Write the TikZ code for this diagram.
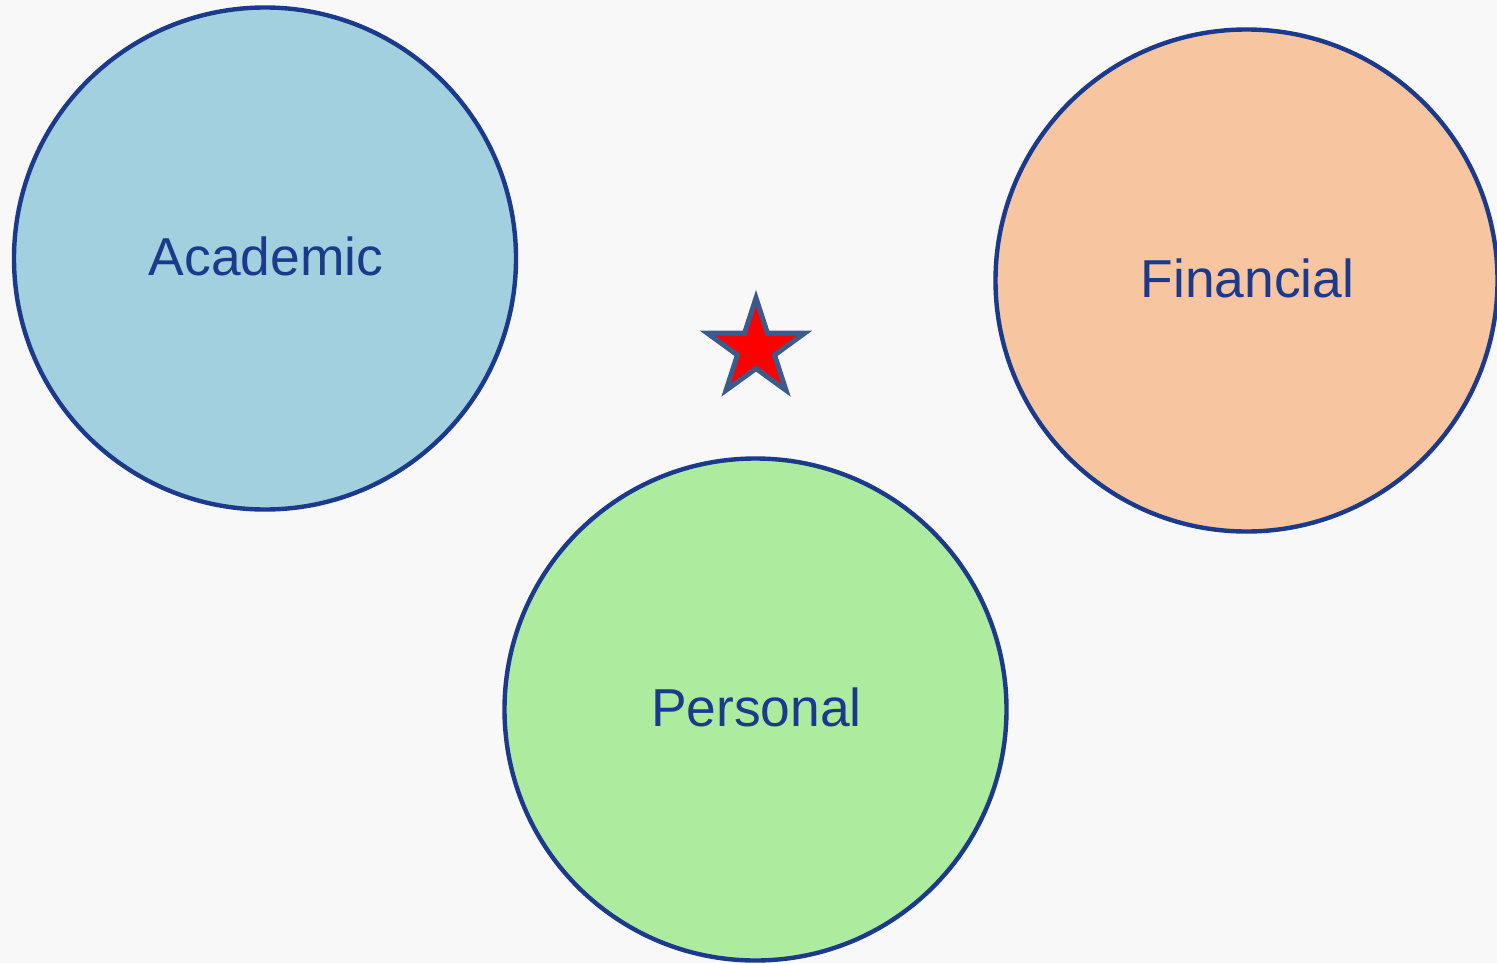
\documentclass[tikz,border=0pt]{standalone}
\usepackage{fontspec}
\setmainfont{Liberation Sans}
\usetikzlibrary{calc}
\definecolor{bg}{HTML}{F8F8F8}
\definecolor{edge}{HTML}{1B3A8C}
\definecolor{academic}{HTML}{A2D0DE}
\definecolor{financial}{HTML}{F7C6A0}
\definecolor{personal}{HTML}{ADEC9E}
\definecolor{starred}{HTML}{FF0000}
\definecolor{staredge}{HTML}{3B5B8C}
\begin{document}
\begin{tikzpicture}[x=0.5pt,y=-0.5pt,
  bubble/.style={circle,draw=edge,line width=2.2pt,minimum size=251pt,inner sep=0pt,
    text=edge,font=\fontsize{26.7pt}{30pt}\selectfont}]
\fill[bg] (0,0) rectangle (1497,963);
\useasboundingbox (0,0) rectangle (1497,963);
\node[bubble,fill=academic] (academic) at (265,258.5) {};
\node[bubble,fill=financial] (financial) at (1246.5,280.5) {};
\node[bubble,fill=personal] (personal) at (755.5,709.5) {};
\node[text=edge,font=\fontsize{26.7pt}{30pt}\selectfont] (academiclabel) at ($(academic)+(1,-2)$) {Academic};
\node[text=edge,font=\fontsize{26.7pt}{30pt}\selectfont] (financiallabel) at ($(financial)+(1,-2)$) {Financial};
\node[text=edge,font=\fontsize{26.7pt}{30pt}\selectfont] (personallabel) at ($(personal)+(1,-2)$) {Personal};
\coordinate (starc) at (756,349);
\draw[fill=starred,draw=staredge,line width=2.5pt,miter limit=10]
  ($(starc)+(-90:51)$)
  \foreach \k in {0,...,4} {
    -- ($(starc)+({-90+36+72*\k}:19.5)$) -- ($(starc)+({-90+72+72*\k}:51)$)
  } -- cycle;
\end{tikzpicture}
\end{document}
